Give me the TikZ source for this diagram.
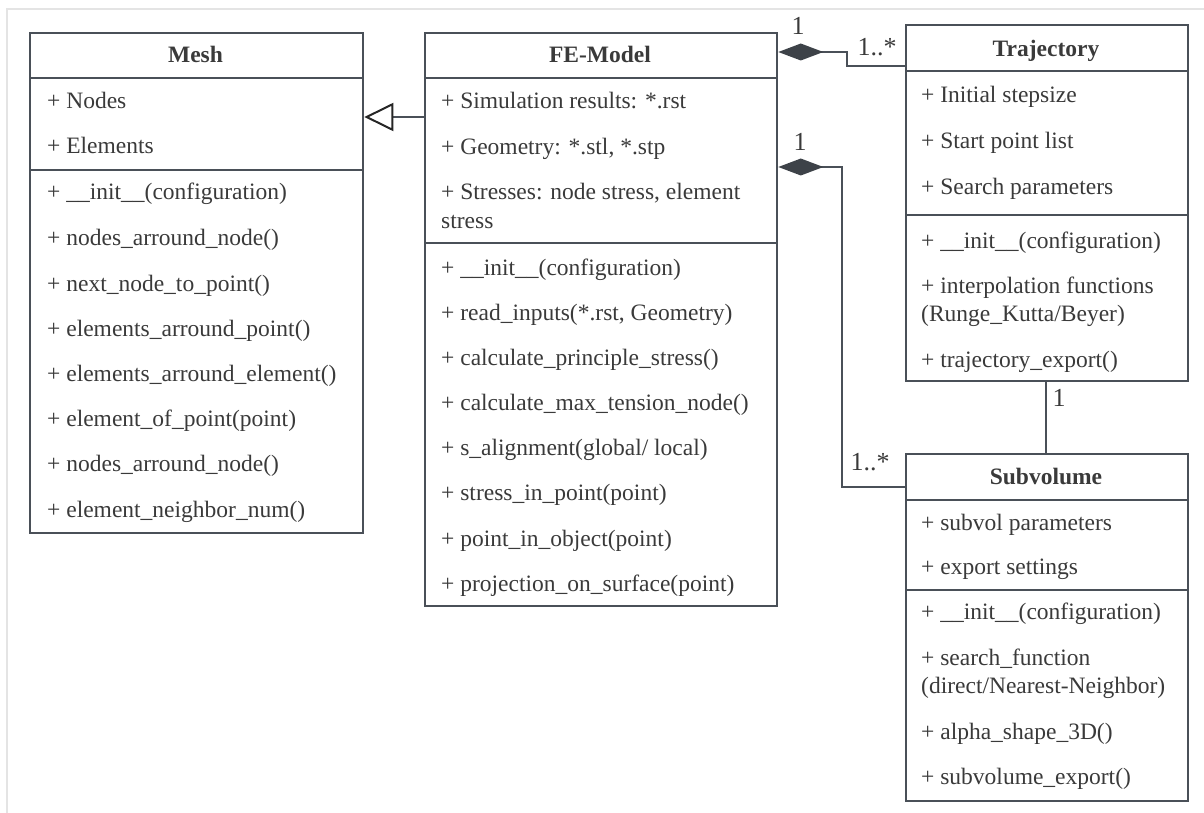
\documentclass[tikz,border=0pt]{standalone}
\usepackage{fontspec}
\setmainfont{Liberation Serif}
\usetikzlibrary{arrows.meta}

\definecolor{umlline}{HTML}{4A5058}
\definecolor{umltext}{HTML}{3A3A3A}
\definecolor{umlfill}{HTML}{3D4248}
\definecolor{framegray}{HTML}{E4E4E4}

\begin{document}
\begin{tikzpicture}[x=1pt,y=-1pt,
  classbox/.style={draw=umlline, line width=2.3pt, anchor=north west, inner sep=0pt, fill=white},
  divider/.style={draw=umlline, line width=2.3pt},
  row/.style={anchor=base west, yshift=-8pt, inner sep=0pt, text=umltext,
              font=\fontsize{23.5}{28}\selectfont},
  title/.style={anchor=base, yshift=-8pt, inner sep=0pt, text=umltext,
              font=\fontsize{23.5}{28}\selectfont\bfseries},
  mult/.style={inner sep=0pt, text=umltext, font=\fontsize{26}{30}\selectfont},
  link/.style={draw=umlline, line width=2.3pt},
  inherit/.style={link, -{Triangle[open, length=29pt, width=28pt, line width=2pt, color=black!85]}},
  aggregate/.style={link, {Diamond[length=45pt, width=17pt, fill=umlfill, color=umlfill]}-}
]
\useasboundingbox (0,0) rectangle (1204,813);

% thin outer frame
\draw[framegray, line width=1.5pt] (7,813) -- (7,9) -- (1204,9);

% ---------- Mesh ----------
\node[classbox, minimum width=333pt, minimum height=500pt] (mesh) at (29,32) {};
\draw[divider] (mesh.north west |- 0,78) -- (mesh.north east |- 0,78);
\draw[divider] (mesh.north west |- 0,170) -- (mesh.north east |- 0,170);
\node[title] (meshT) at (195.5,55) {Mesh};
\foreach \yy/\txt [count=\i] in {
  101/{+ Nodes},
  146/{+ Elements},
  192/{+ \_\_init\_\_(configuration)},
  237/{+ nodes\_arround\_node()},
  283/{+ next\_node\_to\_point()},
  328/{+ elements\_arround\_point()},
  373/{+ elements\_arround\_element()},
  418/{+ element\_of\_point(point)},
  463/{+ nodes\_arround\_node()},
  509/{+ element\_neighbor\_num()}}
  \node[row] (meshR\i) at (47,\yy) {\txt};

% ---------- FE-Model ----------
\node[classbox, minimum width=352pt, minimum height=573pt] (fe) at (424,32) {};
\draw[divider] (fe.north west |- 0,78) -- (fe.north east |- 0,78);
\draw[divider] (fe.north west |- 0,243) -- (fe.north east |- 0,243);
\node[title] (feT) at (600,55) {FE-Model};
\foreach \yy/\txt [count=\i] in {
  101/{+ Simulation results: *.rst},
  147/{+ Geometry: *.stl, *.stp},
  192/{+ Stresses: node stress, element},
  220/{stress},
  267/{+ \_\_init\_\_(configuration)},
  312/{+ read\_inputs(*.rst, Geometry)},
  357/{+ calculate\_principle\_stress()},
  402/{+ calculate\_max\_tension\_node()},
  447/{+ s\_alignment(global/ local)},
  492/{+ stress\_in\_point(point)},
  538/{+ point\_in\_object(point)},
  583/{+ projection\_on\_surface(point)}}
  \node[row] (feR\i) at (441,\yy) {\txt};

% ---------- Trajectory ----------
\node[classbox, minimum width=282pt, minimum height=356pt] (traj) at (905,24) {};
\draw[divider] (traj.north west |- 0,71) -- (traj.north east |- 0,71);
\draw[divider] (traj.north west |- 0,215) -- (traj.north east |- 0,215);
\node[title] (trajT) at (1046,49) {Trajectory};
\foreach \yy/\txt [count=\i] in {
  95/{+ Initial stepsize},
  141/{+ Start point list},
  186/{+ Search parameters},
  240/{+ \_\_init\_\_(configuration)},
  285/{+ interpolation functions},
  313/{(Runge\_Kutta/Beyer)},
  359/{+ trajectory\_export()}}
  \node[row] (trajR\i) at (921,\yy) {\txt};

% ---------- Subvolume ----------
\node[classbox, minimum width=282pt, minimum height=347pt] (sub) at (905,453) {};
\draw[divider] (sub.north west |- 0,500) -- (sub.north east |- 0,500);
\draw[divider] (sub.north west |- 0,590) -- (sub.north east |- 0,590);
\node[title] (subT) at (1046,476) {Subvolume};
\foreach \yy/\txt [count=\i] in {
  522/{+ subvol parameters},
  566/{+ export settings},
  611/{+ \_\_init\_\_(configuration)},
  657/{+ search\_function},
  685/{(direct/Nearest-Neighbor)},
  731/{+ alpha\_shape\_3D()},
  776/{+ subvolume\_export()}}
  \node[row] (subR\i) at (921,\yy) {\txt};

% ---------- relations ----------
% FE-Model specialises Mesh
\draw[inherit] (fe.north west |- 0,117) -- (mesh.north east |- 0,117);

% FE-Model aggregates trajectories
\draw[aggregate] (fe.north east |- 0,52) -- ++(69,0) |- (traj.north west |- 0,66);
\node[mult] (m1) at (798,26) {1};
\node[mult] (m2) at (877,47) {1..*};

% FE-Model aggregates subvolumes
\draw[aggregate] (fe.north east |- 0,167) -- ++(64,0) |- (sub.north west |- 0,487);
\node[mult] (m3) at (800,142) {1};
\node[mult] (m4) at (870,462) {1..*};

% Trajectory -- Subvolume
\draw[link] (traj.south west -| 1046,0) -- (sub.north west -| 1046,0);
\node[mult] (m5) at (1059,398) {1};

\end{tikzpicture}
\end{document}
